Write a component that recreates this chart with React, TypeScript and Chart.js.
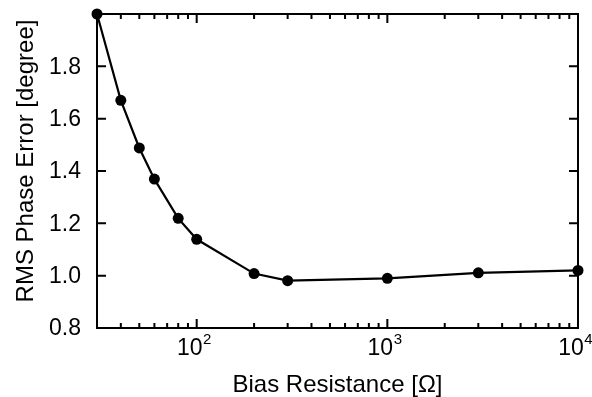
import { useEffect, useRef } from "react";
import { Chart, registerables } from "chart.js";

Chart.register(...registerables);

const resistance = [30, 40, 50, 60, 80, 100, 200, 300, 1000, 3000, 10000];
const phaseError = [2.0, 1.67, 1.488, 1.369, 1.219, 1.139, 1.008, 0.981, 0.99, 1.011, 1.02];
const yTicks = [0.8, 1.0, 1.2, 1.4, 1.6, 1.8, 2.0];
const yTickLabels = ["0.8", "1.0", "1.2", "1.4", "1.6", "1.8", ""];
const xMajorTicks = [100, 1000, 10000];
const xMajorExponents = ["2", "3", "4"];
const xMinorMultipliers = [2, 3, 4, 5, 6, 7, 8, 9];
const xDecades = [10, 100, 1000];
const xTitle = "Bias Resistance [Ω]";
const yTitle = "RMS Phase Error [degree]";
const X_MIN = 30;
const X_MAX = 10000;
const Y_MIN = 0.8;
const Y_MAX = 2.0;

const FONT = '"Liberation Sans", Arial, Helvetica, sans-serif';

const framePlugin = {
  id: "framePlugin",
  beforeDatasetsDraw(chart: any) {
    const { ctx, chartArea } = chart;
    const xs = chart.scales.x;
    const ys = chart.scales.y;
    const { left, right, top, bottom } = chartArea;
    ctx.save();
    ctx.strokeStyle = "#000";
    ctx.lineWidth = 2;
    ctx.strokeRect(left, top, right - left, bottom - top);
    ctx.beginPath();
    for (const v of yTicks) {
      const y = ys.getPixelForValue(v);
      ctx.moveTo(left, y);
      ctx.lineTo(left + 9, y);
      ctx.moveTo(right, y);
      ctx.lineTo(right - 9, y);
    }
    for (const v of xMajorTicks) {
      const x = xs.getPixelForValue(v);
      ctx.moveTo(x, bottom);
      ctx.lineTo(x, bottom - 9);
      ctx.moveTo(x, top);
      ctx.lineTo(x, top + 9);
    }
    for (const d of xDecades) {
      for (const m of xMinorMultipliers) {
        const v = m * d;
        if (v < X_MIN || v > X_MAX) continue;
        const x = xs.getPixelForValue(v);
        ctx.moveTo(x, bottom);
        ctx.lineTo(x, bottom - 5);
        ctx.moveTo(x, top);
        ctx.lineTo(x, top + 5);
      }
    }
    ctx.stroke();
    ctx.restore();
  },
  afterDraw(chart: any) {
    const { ctx, chartArea } = chart;
    const xs = chart.scales.x;
    const ys = chart.scales.y;
    const { left, right, top, bottom } = chartArea;
    ctx.save();
    ctx.fillStyle = "#000";
    ctx.font = `23px ${FONT}`;
    ctx.textAlign = "right";
    ctx.textBaseline = "middle";
    yTicks.forEach((v, i) => {
      if (!yTickLabels[i]) return;
      ctx.fillText(yTickLabels[i], left - 16, ys.getPixelForValue(v) + 1);
    });
    ctx.textBaseline = "alphabetic";
    ctx.textAlign = "left";
    xMajorTicks.forEach((v, i) => {
      const x = xs.getPixelForValue(v);
      ctx.font = `23px ${FONT}`;
      const baseW = ctx.measureText("10").width;
      const start = x - 7 - baseW / 2;
      ctx.fillText("10", start, bottom + 27);
      ctx.font = `15px ${FONT}`;
      ctx.fillText(xMajorExponents[i], start + baseW + 0.5, bottom + 16);
    });
    ctx.font = `24px ${FONT}`;
    ctx.textAlign = "center";
    ctx.textBaseline = "alphabetic";
    ctx.fillText(xTitle, (left + right) / 2, bottom + 64);
    ctx.translate(33, (top + bottom) / 2 - 10);
    ctx.rotate(-Math.PI / 2);
    ctx.fillText(yTitle, 0, 0);
    ctx.restore();
  },
};

export default function App() {
  const canvasRef = useRef<HTMLCanvasElement | null>(null);

  useEffect(() => {
    document.body.style.margin = "0";
    const canvas = canvasRef.current;
    if (!canvas) return;
    const chart = new Chart(canvas, {
      type: "line",
      data: {
        datasets: [
          {
            data: resistance.map((x, i) => ({ x, y: phaseError[i] })),
            borderColor: "#000",
            backgroundColor: "#000",
            borderWidth: 2.2,
            pointRadius: 5.5,
            pointBackgroundColor: "#000",
            pointBorderWidth: 0,
            tension: 0,
            clip: false as any,
          },
        ],
      },
      options: {
        animation: false,
        responsive: false,
        devicePixelRatio: 1,
        layout: { padding: { top: 14, right: 14, left: 0, bottom: 0 } },
        plugins: {
          legend: { display: false },
          tooltip: { enabled: false },
        },
        scales: {
          x: {
            type: "logarithmic",
            min: X_MIN,
            max: X_MAX,
            ticks: { display: false },
            grid: { display: false },
            border: { display: false },
            afterFit: (s: any) => {
              s.height = 69;
            },
          },
          y: {
            type: "linear",
            min: Y_MIN,
            max: Y_MAX,
            ticks: { display: false },
            grid: { display: false },
            border: { display: false },
            afterFit: (s: any) => {
              s.width = 97;
            },
          },
        },
      },
      plugins: [framePlugin],
    });
    return () => chart.destroy();
  }, []);

  return (
    <div style={{ width: 592, height: 397 }}>
      <canvas ref={canvasRef} width={592} height={397} style={{ display: "block" }} />
    </div>
  );
}
